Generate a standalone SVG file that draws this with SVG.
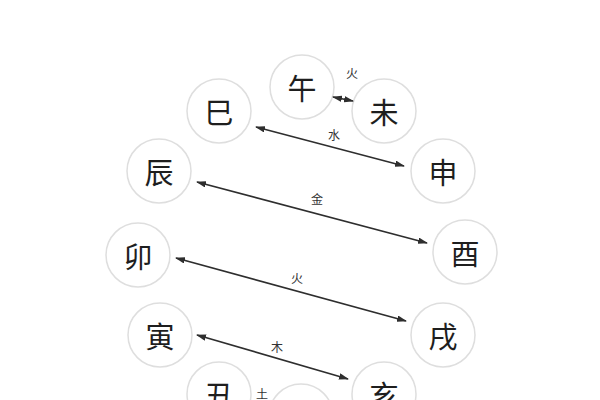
<svg xmlns="http://www.w3.org/2000/svg" width="600" height="400" viewBox="0 0 600 400">
<style>
.node circle{fill:#fff;stroke:#dedede;stroke-width:1.5}
.node text{font-family:"Noto Sans CJK SC","Noto Sans CJK JP",sans-serif;font-size:29px;fill:#1e1e1e;text-anchor:middle;dominant-baseline:central}
.conn line{stroke:#2e2e2e;stroke-width:1.6;marker-start:url(#ah);marker-end:url(#ah)}
.lbl{font-family:"Noto Sans CJK SC","Noto Sans CJK JP",sans-serif;font-size:12px;fill:#333;text-anchor:middle;dominant-baseline:central}
</style>
<defs>
<marker id="ah" viewBox="0 0 10 10" refX="9" refY="5" markerWidth="10" markerHeight="6.5" markerUnits="userSpaceOnUse" orient="auto-start-reverse" preserveAspectRatio="none">
<path d="M0,0 L10,5 L0,10 Z" fill="#2e2e2e"/>
</marker>
</defs>
<rect width="600" height="400" fill="#fff"/>
<g id="n-wu" class="node"><circle cx="302" cy="87" r="32"/><text x="302" y="87">午</text></g>
<g id="n-wei" class="node"><circle cx="384" cy="111" r="32"/><text x="384" y="111">未</text></g>
<g id="n-shen" class="node"><circle cx="443" cy="171" r="32"/><text x="443" y="171">申</text></g>
<g id="n-you" class="node"><circle cx="465" cy="252" r="32"/><text x="465" y="252">酉</text></g>
<g id="n-xu" class="node"><circle cx="443" cy="335" r="32"/><text x="443" y="335">戌</text></g>
<g id="n-hai" class="node"><circle cx="384" cy="394" r="32"/><text x="384" y="394">亥</text></g>
<g id="n-zi" class="node"><circle cx="301" cy="416" r="32"/><text x="301" y="416">子</text></g>
<g id="n-chou" class="node"><circle cx="219" cy="394" r="32"/><text x="219" y="394">丑</text></g>
<g id="n-yin" class="node"><circle cx="160" cy="335" r="32"/><text x="160" y="335">寅</text></g>
<g id="n-mao" class="node"><circle cx="138" cy="255" r="32"/><text x="138" y="255">卯</text></g>
<g id="n-chen" class="node"><circle cx="159" cy="171" r="32"/><text x="159" y="171">辰</text></g>
<g id="n-si" class="node"><circle cx="219" cy="111" r="32"/><text x="219" y="111">巳</text></g>
<g id="connectors" class="conn">
<line x1="333" y1="97" x2="353" y2="101"/>
<line x1="256" y1="127" x2="404" y2="166"/>
<line x1="197" y1="182" x2="427" y2="243"/>
<line x1="176" y1="258" x2="406" y2="321"/>
<line x1="197" y1="335" x2="348" y2="379"/>
</g>
<g id="labels">
<text class="lbl" x="352" y="72">火</text>
<text class="lbl" x="334" y="134">水</text>
<text class="lbl" x="317" y="198">金</text>
<text class="lbl" x="297" y="277">火</text>
<text class="lbl" x="277" y="346">木</text>
<text class="lbl" x="262" y="393">土</text>
</g>
</svg>
